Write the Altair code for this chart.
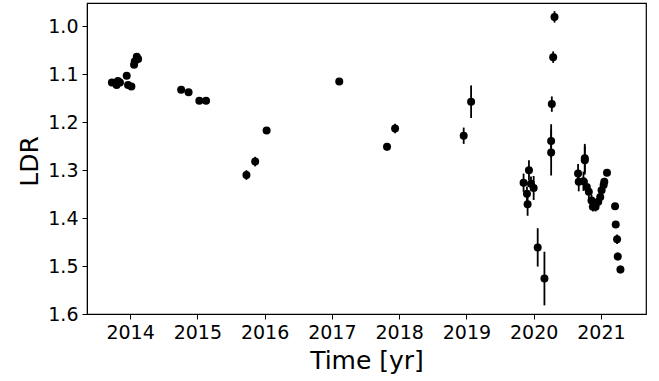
import altair as alt
import pandas as pd

# Observation epochs (decimal years)
time_yr = [
    2013.73, 2013.80, 2013.82, 2013.85, 2013.95, 2013.97, 2014.02, 2014.06, 2014.07, 2014.10, 2014.12,
    2014.76, 2014.87, 2015.03, 2015.13,
    2015.73, 2015.86, 2016.03,
    2017.11,
    2017.82, 2017.94,
    2018.96, 2019.07,
    2019.85, 2019.93, 2019.90, 2019.91, 2020.00, 2019.96, 2020.06, 2020.16,
    2020.31, 2020.29, 2020.27, 2020.26, 2020.26,
    2020.66, 2020.67, 2020.76, 2020.74, 2020.76, 2020.79, 2020.82, 2020.86, 2020.88,
    2020.92, 2020.96, 2020.99, 2021.01, 2021.04, 2021.05, 2021.09,
    2021.21, 2021.22, 2021.24, 2021.25, 2021.29,
]

# Line depth ratio at each epoch
ldr = [
    1.117, 1.122, 1.114, 1.117, 1.103, 1.122, 1.125, 1.080, 1.073, 1.063, 1.068,
    1.132, 1.137, 1.155, 1.155,
    1.310, 1.282, 1.217,
    1.115,
    1.251, 1.213,
    1.228, 1.157,
    1.326, 1.300, 1.349, 1.371, 1.337, 1.328, 1.461, 1.526,
    0.980, 1.064, 1.162, 1.239, 1.263,
    1.307, 1.324, 1.279, 1.323, 1.275, 1.335, 1.345, 1.363, 1.376,
    1.376, 1.366, 1.356, 1.342, 1.331, 1.324, 1.305,
    1.375, 1.413, 1.444, 1.480, 1.507,
]

# One-sigma uncertainties
ldr_err = [
    0.004, 0.004, 0.004, 0.004, 0.004, 0.004, 0.004, 0.004, 0.004, 0.004, 0.004,
    0.004, 0.004, 0.004, 0.004,
    0.010, 0.010, 0.005,
    0.005,
    0.008, 0.010,
    0.017, 0.034,
    0.019, 0.021, 0.015, 0.024, 0.025, 0.015, 0.040, 0.056,
    0.012, 0.012, 0.016, 0.035, 0.048,
    0.020, 0.020, 0.030, 0.020, 0.030, 0.015, 0.015, 0.012, 0.010,
    0.010, 0.010, 0.010, 0.010, 0.010, 0.008, 0.006,
    0.006, 0.006, 0.010, 0.008, 0.008,
]

df = pd.DataFrame({"t": time_yr, "ldr": ldr, "err": ldr_err})
df["lo"] = df["ldr"] - df["err"]
df["hi"] = df["ldr"] + df["err"]

font = "DejaVu Sans"

x_scale = alt.Scale(domain=[2013.36, 2021.67], nice=False, zero=False)
y_scale = alt.Scale(domain=[0.951, 1.6], reverse=True, nice=False, zero=False)

x_axis = alt.Axis(
    title="Time [yr]", values=[2014, 2015, 2016, 2017, 2018, 2019, 2020, 2021], format="d",
    grid=False, tickSize=5, tickColor="black", domainColor="black",
    labelFont=font, labelFontSize=19, labelColor="black", labelPadding=4,
    titleFont=font, titleFontSize=25, titleFontWeight="normal", titleColor="black",
    titleX=279.5, titleY=46, titleBaseline="middle", titleAlign="center",
)
y_axis = alt.Axis(
    title="LDR", values=[1.0, 1.1, 1.2, 1.3, 1.4, 1.5, 1.6], format=".1f",
    grid=False, tickSize=5, tickColor="black", domainColor="black",
    labelFont=font, labelFontSize=19, labelColor="black", labelPadding=4,
    titleFont=font, titleFontSize=25, titleFontWeight="normal", titleColor="black",
    titleX=-58, titleY=158, titleAngle=-90, titleBaseline="middle", titleAlign="center",
)

base = alt.Chart(df)

# Vertical error bars
bars = base.mark_rule(color="black", strokeWidth=1.8).encode(
    x=alt.X("t:Q", scale=x_scale, axis=x_axis),
    y=alt.Y("lo:Q", scale=y_scale, axis=y_axis),
    y2="hi:Q",
)

# Measured values
points = base.mark_circle(color="black", opacity=1, size=64).encode(
    x=alt.X("t:Q", scale=x_scale),
    y=alt.Y("ldr:Q", scale=y_scale),
)

chart = (
    alt.layer(bars, points)
    .properties(
        width=559,
        height=311,
        autosize=alt.AutoSizeParams(type="none"),
        padding={"left": 87, "top": 3, "right": 13, "bottom": 67},
        background="white",
    )
    .configure_view(stroke="black", strokeWidth=1.2)
)

chart.save("out.html", embed_options={"renderer": "svg", "actions": False})
